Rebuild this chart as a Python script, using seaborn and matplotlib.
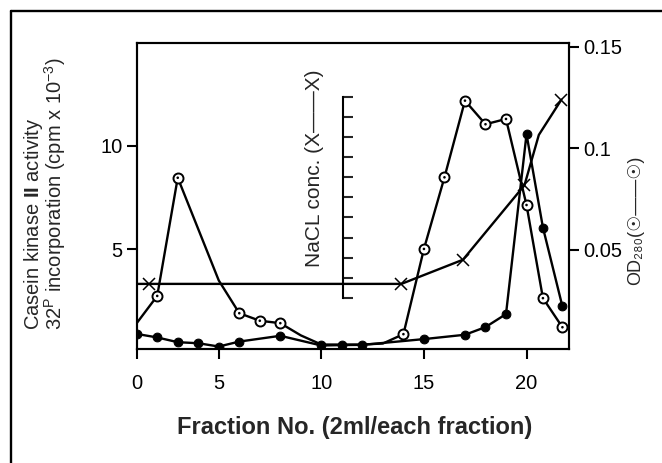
import matplotlib
matplotlib.use('Agg')
import matplotlib.pyplot as plt
from matplotlib.lines import Line2D
import numpy as np
import seaborn as sns

# Fractions / values
frac_kinase = [1, 2, 3, 4, 5, 6, 8, 10, 11, 12, 15, 17, 18, 19, 20, 20.8, 21.75]
kinase = [0.9, 0.73, 0.5, 0.45, 0.29, 0.53, 0.81, 0.34, 0.36, 0.37, 0.65, 0.86, 1.23, 1.86, 10.57, 6.05, 2.23]

frac_od = [1, 2, 3, 5, 6, 7, 8, 9, 10, 11, 12, 13, 14, 15, 16, 17, 18, 19, 20, 20.8, 21.75]
od280 = [0.014, 0.0274, 0.0855, 0.035, 0.0189, 0.0152, 0.014, 0.008, 0.0035, 0.0035, 0.0035, 0.004,
         0.0086, 0.0505, 0.0857, 0.1234, 0.1118, 0.1144, 0.0721, 0.0263, 0.012]
od_marked = [1, 2, 4, 5, 6, 12, 13, 14, 15, 16, 17, 18, 19, 20]

frac_nacl = [1, 1.6, 13.9, 16.9, 19.9, 20.6, 21.7]
nacl = [0.07, 0.07, 0.07, 0.19, 0.56, 0.81, 0.985]
nacl_marked = [1, 2, 3, 4, 6]

xtick_pos = [1, 5, 10, 15, 20]
xtick_labels = ['0', '5', '10', '15', '20']
left_ticks = [5, 10]
right_ticks = [0.05, 0.1, 0.15]
right_labels = ['0.05', '0.1', '0.15']
nacl_ticks = np.arange(0, 1.01, 0.1)

sns.set_theme(style='ticks')
plt.rcParams['font.family'] = ['Liberation Sans', 'DejaVu Sans']
plt.rcParams['mathtext.fontset'] = 'custom'
plt.rcParams['mathtext.rm'] = 'Liberation Sans'
plt.rcParams['mathtext.bf'] = 'Liberation Sans:bold'
plt.rcParams['mathtext.it'] = 'Liberation Sans:italic'
plt.rcParams['axes.linewidth'] = 1.5
plt.rcParams['axes.edgecolor'] = 'black'

LW = 1.7
fig = plt.figure(figsize=(6.62, 4.63), dpi=100)
ax = fig.add_axes([0.2065, 0.2462, 0.653, 0.6616])
ax2 = ax.twinx()
ax3 = ax.twinx()

# kinase activity (filled circles), left axis
sns.lineplot(x=frac_kinase, y=kinase, ax=ax, color='black', lw=LW, marker='o', ms=6.3,
             mec='black', mfc='black', sort=False, estimator=None)

# OD280 (dotted open circles), right axis
sns.lineplot(x=frac_od, y=od280, ax=ax2, color='black', lw=LW, marker='o', ms=7.2,
             mfc='white', mec='black', mew=1.4, markevery=od_marked, sort=False, estimator=None)
sns.scatterplot(x=[frac_od[i] for i in od_marked], y=[od280[i] for i in od_marked], ax=ax2,
                color='black', s=3.5, edgecolor='none', zorder=5)

# NaCl gradient (x markers), inner axis
sns.lineplot(x=frac_nacl, y=nacl, ax=ax3, color='black', lw=LW, marker='x', ms=8.5, mew=1.1,
             mec='black', markevery=nacl_marked, sort=False, estimator=None)

ax.set_xlim(1, 22.07)
ax.set_ylim(0.17, 15.0)
ax2.set_ylim(0.0013, 0.1519)
ax3.set_ylim(-0.2534, 1.268)

ax.set_xticks(xtick_pos, xtick_labels)
ax.set_yticks(left_ticks)
ax2.set_yticks(right_ticks, right_labels)
ax.tick_params(axis='x', length=7, width=1.5, pad=11, labelsize=14.5, colors='black')
ax.tick_params(axis='y', length=7, width=1.5, pad=3, labelsize=14.5, colors='black')
ax2.tick_params(axis='y', length=7, width=1.5, pad=3, labelsize=14.5, colors='black')

# inner NaCl axis
for s in ax3.spines.values():
    s.set_visible(False)
ax3.spines['left'].set_visible(True)
ax3.spines['left'].set_position(('axes', 0.478))
ax3.spines['left'].set_bounds(0, 1.0)
ax3.yaxis.set_ticks_position('left')
ax3.set_yticks(nacl_ticks)
ax3.tick_params(axis='y', direction='in', length=7, width=1.5, labelleft=False, labelright=False)
ax3.yaxis.set_label_position('left')

ax.set_xlabel('Fraction No. (2ml/each fraction)', fontsize=17, fontweight='bold')
ax.xaxis.set_label_coords(0.505, -0.2547)
ax.xaxis.label.set_va('center')

ax.set_ylabel('Casein kinase $\\mathbf{II}$ activity\n32$^{\\rm P}$ incorporation (cpm x 10$^{-3}$)',
              fontsize=14.5, linespacing=0.85, multialignment='left')
ax.yaxis.set_label_coords(-0.2125, 0.506)
ax.yaxis.label.set_va('center')

ax2.set_ylabel('OD\u2082\u2088\u2080(\u2609\u2014\u2014\u2609)', fontsize=13)
ax2.yaxis.set_label_coords(1.153, 0.421)
ax2.yaxis.label.set(va='center', ha='center', rotation=90)

ax3.set_ylabel('NaCL conc. (X\u2014\u2014X)', fontsize=15)
ax3.yaxis.set_label_coords(0.412, 0.591)
ax3.yaxis.label.set_va('center')

# outer frame (only top and left edges fall inside the image)
fig.add_artist(Line2D([11.3 / 662, 11.3 / 662], [0, 1 - 11 / 463], color='black', lw=1.7,
                      transform=fig.transFigure))
fig.add_artist(Line2D([11.3 / 662, 1], [1 - 11 / 463, 1 - 11 / 463], color='black', lw=1.7,
                      transform=fig.transFigure))

fig.savefig('out.png', dpi=100, facecolor='white')
